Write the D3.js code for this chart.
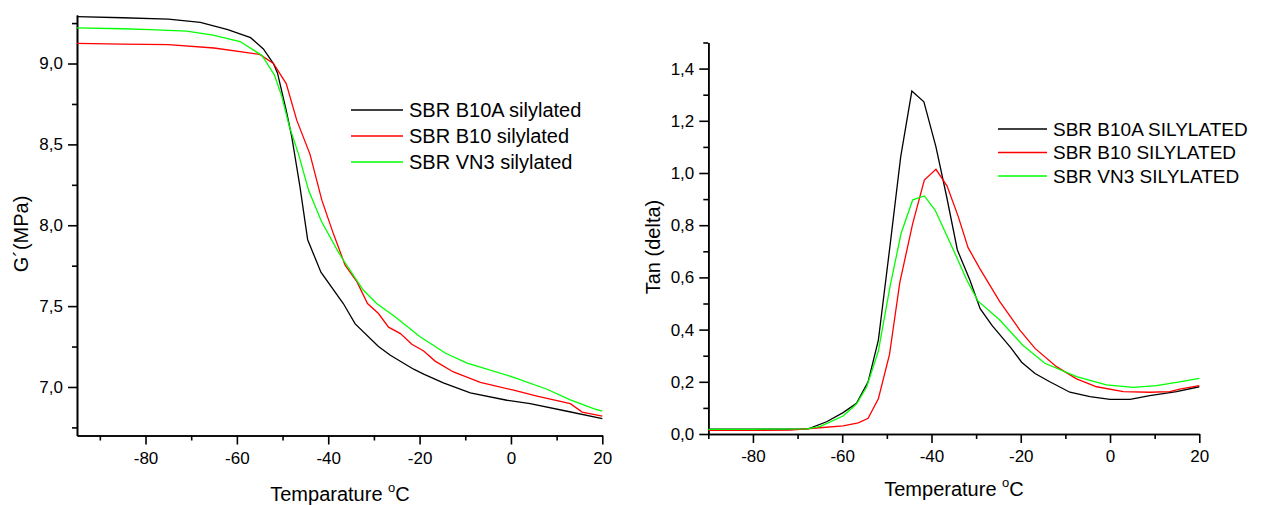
<!DOCTYPE html>
<html>
<head>
<meta charset="utf-8">
<script src="https://cdn.jsdelivr.net/npm/d3@7"></script>
<style>
    body { margin: 0; background: #fff; }
    svg { font-family: "Liberation Sans", Arial, sans-serif; }
    .axis path, .axis line { stroke: #000; stroke-width: 1.6; }
    .axis text { font-size: 17px; fill: #000; }
</style>
</head>
<body>
<div id="chart_area"></div>
<script>
// left panel: storage modulus G' (MPa)
var g_temp_b10a = [-95, -85, -75, -68, -62, -57, -54.2, -52, -51.1, -49.2, -48, -46.2, -44.5, -41.6, -36.7, -34.1, -29, -26.4, -21.3, -19.1, -14.8, -8.9, -0.9, 4.2, 12.3, 20];
var g_val_b10a = [9.29, 9.283, 9.274, 9.255, 9.21, 9.16, 9.09, 9.0, 8.94, 8.71, 8.55, 8.24, 7.91, 7.71, 7.516, 7.39, 7.25, 7.196, 7.11, 7.08, 7.025, 6.963, 6.918, 6.897, 6.85, 6.805];
var g_temp_b10 = [-95, -85, -75, -65, -55, -52, -49.2, -46.9, -44, -41.4, -38.9, -36.3, -33.7, -31.4, -29, -26.8, -24.2, -21.7, -19.1, -16.6, -12.6, -6.7, 0.6, 5.7, 13, 15.6, 20];
var g_val_b10 = [9.124, 9.12, 9.117, 9.096, 9.056, 9.0, 8.876, 8.65, 8.44, 8.155, 7.95, 7.753, 7.65, 7.516, 7.454, 7.37, 7.33, 7.264, 7.223, 7.16, 7.093, 7.028, 6.98, 6.944, 6.897, 6.845, 6.82];
var g_temp_vn3 = [-95, -85, -79, -71, -65.2, -59.3, -54.5, -51.8, -50.2, -48.5, -46.5, -44.3, -41.5, -38, -36.7, -32.3, -29.4, -25.3, -19.9, -17, -14.4, -9.6, 0.6, 7.9, 13, 18.1, 20];
var g_val_vn3 = [9.22, 9.215, 9.21, 9.2, 9.175, 9.136, 9.05, 8.93, 8.8, 8.61, 8.44, 8.216, 8.025, 7.845, 7.785, 7.598, 7.516, 7.433, 7.31, 7.258, 7.21, 7.148, 7.06, 6.986, 6.92, 6.866, 6.85];

// right panel: tan delta
var t_temp_b10a = [-90, -80, -70, -67.6, -63.5, -59.8, -56.8, -54.2, -51.9, -49.3, -46.9, -44.4, -41.7, -39, -36.6, -34.2, -31.4, -29.1, -26.4, -22.2, -19.8, -16.8, -13.5, -9, -4.5, 0, 4.5, 8.9, 14.9, 20];
var t_val_b10a = [0.019, 0.019, 0.019, 0.02, 0.047, 0.082, 0.118, 0.2, 0.36, 0.72, 1.062, 1.314, 1.273, 1.1, 0.909, 0.705, 0.59, 0.48, 0.415, 0.33, 0.275, 0.232, 0.2, 0.16, 0.143, 0.133, 0.133, 0.147, 0.162, 0.181];
var t_temp_b10 = [-90, -80, -71.7, -65, -59.8, -56.4, -54.2, -51.9, -49.4, -47.1, -44.2, -41.6, -39, -36.5, -34, -31.8, -29.1, -24.7, -20.2, -16.8, -12, -7.5, -3, 3, 8.9, 13.4, 15.6, 20];
var t_val_b10 = [0.014, 0.014, 0.015, 0.024, 0.031, 0.043, 0.06, 0.135, 0.305, 0.58, 0.807, 0.973, 1.014, 0.95, 0.833, 0.714, 0.632, 0.507, 0.398, 0.328, 0.258, 0.211, 0.181, 0.162, 0.16, 0.162, 0.172, 0.185];
var t_temp_vn3 = [-90, -80, -68, -65, -59.8, -56.8, -54.5, -51.9, -49.3, -46.8, -44.2, -41.6, -39.2, -36.8, -34.4, -32.1, -29.6, -24.7, -19.6, -14.6, -7.5, -0.8, 5.2, 10.4, 15.6, 20];
var t_val_vn3 = [0.018, 0.018, 0.02, 0.028, 0.069, 0.115, 0.181, 0.318, 0.564, 0.769, 0.897, 0.912, 0.858, 0.769, 0.679, 0.59, 0.51, 0.437, 0.341, 0.271, 0.22, 0.188, 0.179, 0.185, 0.2, 0.213];

var g_names = ["SBR B10A silylated", "SBR B10 silylated", "SBR VN3 silylated"];
var t_names = ["SBR B10A SILYLATED", "SBR B10 SILYLATED", "SBR VN3 SILYLATED"];
var colors = ["#000000", "#ff0000", "#00ff00"];

var x_major = [-80, -60, -40, -20, 0, 20];
var x_minor = [-90, -70, -50, -30, -10, 10];
var g_major = [7.0, 7.5, 8.0, 8.5, 9.0];
var g_minor = [6.75, 7.25, 7.75, 8.25, 8.75, 9.25];
var t_major = [0, 0.2, 0.4, 0.6, 0.8, 1.0, 1.2, 1.4];
var t_minor = [0.1, 0.3, 0.5, 0.7, 0.9, 1.1, 1.3, 1.5];

var svg_w = 1262, svg_h = 505;
var svg = d3.select("#chart_area")
    .append("svg")
    .attr("width", svg_w)
    .attr("height", svg_h);

function comma(d) {
    return d3.format(".1f")(d).replace(".", ",");
}

function plain(d) {
    return String(d);   // hyphen minus like the original, not d3's unicode minus
}

function zip(xs, ys) {
    return xs.map(function (x, i) { return [x, ys[i]]; });
}

function draw_panel(opt) {
    var xScale = d3.scaleLinear().domain(opt.xdom).range([opt.left, opt.right]);
    var yScale = d3.scaleLinear().domain(opt.ydom).range([opt.bottom, opt.top]);
    var g = svg.append("g");

    // minor ticks
    g.append("g").attr("class", "axis")
        .attr("transform", "translate(0," + opt.bottom + ")")
        .call(d3.axisBottom(xScale).tickValues(x_minor).tickSize(5).tickSizeOuter(0).tickFormat(""));
    g.append("g").attr("class", "axis")
        .attr("transform", "translate(" + opt.left + ",0)")
        .call(d3.axisLeft(yScale).tickValues(opt.yminor).tickSize(5).tickSizeOuter(0).tickFormat(""));

    // major ticks
    g.append("g").attr("class", "axis")
        .attr("transform", "translate(0," + opt.bottom + ")")
        .call(d3.axisBottom(xScale).tickValues(x_major).tickSize(9).tickSizeOuter(0).tickPadding(7).tickFormat(plain));
    g.append("g").attr("class", "axis")
        .attr("transform", "translate(" + opt.left + ",0)")
        .call(d3.axisLeft(yScale).tickValues(opt.ymajor).tickSize(9).tickSizeOuter(0).tickPadding(5).tickFormat(comma));

    var line = d3.line()
        .x(function (d) { return xScale(d[0]); })
        .y(function (d) { return yScale(d[1]); });

    opt.series.forEach(function (s, i) {
        g.append("path")
            .datum(s)
            .attr("d", line)
            .attr("fill", "none")
            .attr("stroke", colors[i])
            .attr("stroke-width", 1.3);
    });

    // legend
    var leg = g.append("g");
    opt.names.forEach(function (name, i) {
        var y = opt.leg_y + i * opt.leg_dy;
        leg.append("line")
            .attr("x1", opt.leg_x).attr("x2", opt.leg_x + opt.leg_len)
            .attr("y1", y).attr("y2", y)
            .attr("stroke", colors[i]).attr("stroke-width", 1.3);
        leg.append("text")
            .attr("x", opt.leg_x + opt.leg_len + 6)
            .attr("y", y)
            .attr("dy", "0.35em")
            .style("font-size", opt.leg_fs + "px")
            .text(name);
    });

    // axis titles
    var xt = g.append("text")
        .attr("x", opt.xt_x).attr("y", opt.xt_y)
        .attr("text-anchor", "middle")
        .style("font-size", "20px");
    xt.append("tspan").text(opt.xtitle + " ");
    xt.append("tspan").attr("dy", -9).style("font-size", "13px").text("o");
    xt.append("tspan").attr("dy", 9).text("C");

    g.append("text")
        .attr("transform", "translate(" + opt.yt_x + "," + opt.yt_y + ") rotate(-90)")
        .attr("text-anchor", "middle")
        .style("font-size", "20px")
        .text(opt.ytitle);
}

draw_panel({
    xdom: [-95, 20], ydom: [6.7, 9.3],
    left: 77, right: 602.3, top: 15, bottom: 435.5,
    yminor: g_minor, ymajor: g_major,
    series: [zip(g_temp_b10a, g_val_b10a), zip(g_temp_b10, g_val_b10), zip(g_temp_vn3, g_val_vn3)],
    names: g_names, leg_x: 351, leg_len: 52, leg_y: 110, leg_dy: 26, leg_fs: 20,
    xtitle: "Temparature", xt_x: 340, xt_y: 501,
    ytitle: "G\u00b4(MPa)", yt_x: 28, yt_y: 234
});

draw_panel({
    xdom: [-90, 20], ydom: [0, 1.5],
    left: 708.3, right: 1199.3, top: 42.5, bottom: 434,
    yminor: t_minor, ymajor: t_major,
    series: [zip(t_temp_b10a, t_val_b10a), zip(t_temp_b10, t_val_b10), zip(t_temp_vn3, t_val_vn3)],
    names: t_names, leg_x: 998, leg_len: 49, leg_y: 129, leg_dy: 23.5, leg_fs: 19,
    xtitle: "Temperature", xt_x: 954, xt_y: 496,
    ytitle: "Tan (delta)", yt_x: 660, yt_y: 247
});
</script>
</body>
</html>
